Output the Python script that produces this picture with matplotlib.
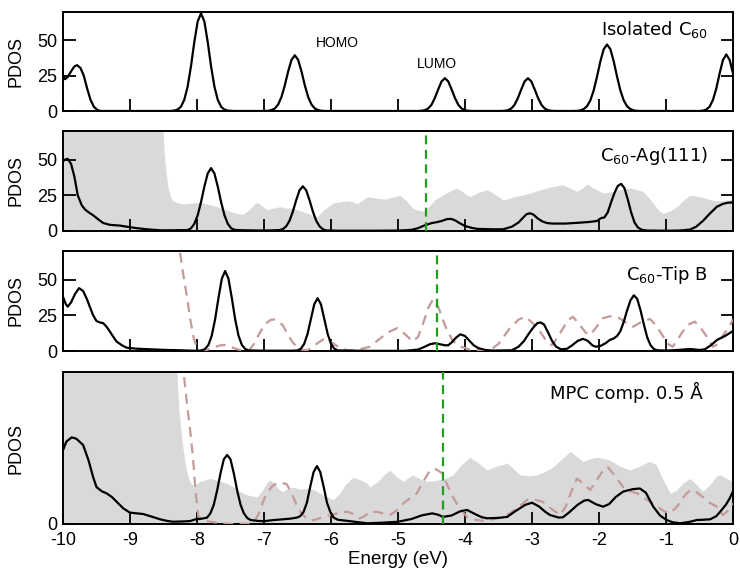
import numpy as np
import matplotlib
matplotlib.use("Agg")
import matplotlib.pyplot as plt

plt.rcParams['font.family'] = ['Liberation Sans', 'DejaVu Sans']
plt.rcParams['axes.unicode_minus'] = False

# ---- data (energy in eV, PDOS in arbitrary units) ----
# Isolated C60
iso_e = [-10, -9.97, -9.93, -9.88, -9.83, -9.79, -9.74, -9.69, -9.64, -9.59, -9.54, -9.49, -9.44,
         -8.4, -8.34, -8.29, -8.24, -8.19, -8.14, -8.09, -8.04, -7.99, -7.94, -7.89, -7.84, -7.79,
         -7.74, -7.69, -7.64, -7.59, -7.54, -7.45,
         -7.0, -6.94, -6.89, -6.84, -6.79, -6.74, -6.69, -6.64, -6.59, -6.54, -6.49, -6.44, -6.39,
         -6.34, -6.29, -6.24, -6.19, -6.14, -6.08,
         -4.72, -4.65, -4.60, -4.55, -4.50, -4.45, -4.40, -4.35, -4.30, -4.25, -4.20, -4.15, -4.10,
         -4.05, -4.00, -3.95, -3.88,
         -3.48, -3.41, -3.36, -3.31, -3.26, -3.21, -3.16, -3.11, -3.06, -3.01, -2.96, -2.91, -2.86,
         -2.81, -2.76, -2.71, -2.64,
         -2.4, -2.33, -2.28, -2.23, -2.18, -2.13, -2.08, -2.03, -1.98, -1.93, -1.88, -1.83, -1.78,
         -1.73, -1.68, -1.63, -1.58, -1.53, -1.48, -1.43, -1.36,
         -0.50, -0.45, -0.40, -0.35, -0.30, -0.25, -0.20, -0.15, -0.10, -0.05, 0.0]
iso_v = [25, 22.5, 24, 28, 31.5, 32.4, 30.5, 25, 16, 8, 3, 0.8, 0,
         0, 0.3, 1.0, 3.0, 7.9, 17.2, 31.6, 48.8, 63.3, 69, 63.3, 48.8, 31.6,
         17.2, 7.9, 3.0, 1.0, 0.3, 0,
         0, 0.15, 0.6, 1.7, 4.5, 9.8, 18.0, 27.9, 36.1, 39.4, 36.1, 27.9, 18.0,
         9.8, 4.5, 1.7, 0.6, 0.15, 0,
         0, 0.15, 0.56, 1.75, 4.4, 9.2, 15.3, 20.9, 23.2, 20.9, 15.3, 9.2, 4.4,
         1.75, 0.56, 0.15, 0,
         0, 0.15, 0.56, 1.75, 4.4, 9.2, 15.3, 20.9, 23.2, 20.9, 15.3, 9.2, 4.4,
         1.75, 0.56, 0.15, 0,
         0, 0.1, 0.4, 1.3, 3.3, 7.4, 14.4, 24.2, 35.0, 43.7, 47, 43.7, 35.0,
         24.2, 14.4, 7.4, 3.3, 1.3, 0.4, 0.1, 0,
         0, 0.25, 1.0, 3.0, 7.7, 15.8, 26.5, 36.1, 40, 36.1, 26.5]

# C60 on Ag(111): substrate (grey) and molecule (black)
ag_sub_e = [-10, -8.53, -8.51, -8.49, -8.46, -8.43, -8.39, -8.36, -8.28, -8.2, -8.08, -7.95, -7.82, -7.7,
            -7.58, -7.46, -7.38, -7.31, -7.22, -7.14, -7.1, -7.03, -6.96, -6.86, -6.76, -6.66, -6.56, -6.48,
            -6.39, -6.3, -6.21, -6.1, -5.97, -5.85, -5.76, -5.68, -5.61, -5.53, -5.46, -5.38, -5.27, -5.17,
            -5.06, -4.97, -4.88, -4.78, -4.7, -4.62, -4.53, -4.45, -4.3, -4.2, -4.12, -4.02, -3.93, -3.8,
            -3.67, -3.55, -3.43, -3.33, -3.28, -3.15, -3.03, -2.9, -2.75, -2.55, -2.43, -2.33, -2.25, -2.18,
            -2.08, -1.94, -1.8, -1.65, -1.54, -1.44, -1.34, -1.2, -1.1, -1.04, -0.94, -0.84, -0.74, -0.64,
            -0.55, -0.45, -0.35, -0.24, -0.12, 0]
ag_sub_v = [100, 100, 75, 55, 40, 30, 23.5, 21, 19.5, 19, 19.5, 20, 18.5, 17,
            15, 13, 12, 11.7, 15, 19, 20, 17.5, 15, 16, 17, 16, 16, 14.5,
            13, 11.5, 10, 15, 19.5, 20.5, 21, 20.5, 19, 21.5, 24, 23.5, 22.5, 22.5,
            24, 25, 21.5, 16, 14.5, 14, 17.5, 21.8, 26, 28.5, 30, 27, 24, 27,
            29, 25.5, 21.8, 23, 24, 25, 26.5, 28.5, 30.5, 32.4, 30, 27.7, 30, 33,
            30, 26.5, 27.5, 29.5, 30, 29, 27.7, 20, 14, 12.4, 14, 17, 21.5, 25,
            24.5, 23.5, 22, 21, 21.5, 22]
ag_mol_e = [-10, -9.97, -9.93, -9.88, -9.83, -9.78, -9.72, -9.67, -9.6, -9.55, -9.47, -9.4, -9.3, -9.15,
            -9.05, -8.9, -8.75, -8.55, -8.4, -8.19, -8.14, -8.09, -8.04, -7.99, -7.94, -7.89, -7.84, -7.79,
            -7.74, -7.69, -7.64, -7.59, -7.54, -7.49, -7.44, -7.3, -7.0, -6.85,
            -6.77, -6.72, -6.67, -6.62, -6.57, -6.52, -6.47, -6.42, -6.37, -6.32, -6.27, -6.22, -6.17,
            -6.12, -6.07, -5.9, -5.4, -5.0, -4.8, -4.7,
            -4.6, -4.5, -4.42, -4.35, -4.27, -4.21, -4.15, -4.08, -4.0, -3.9, -3.82, -3.6, -3.43, -3.3,
            -3.2, -3.13, -3.08, -3.03, -2.98, -2.92, -2.85, -2.78, -2.7, -2.5, -2.3, -2.15, -2.03, -1.97,
            -1.92, -1.87, -1.82, -1.77, -1.72, -1.67, -1.62, -1.57, -1.52, -1.47, -1.42, -1.37, -1.28, -1.0,
            -0.8, -0.64, -0.55, -0.45, -0.35, -0.24, -0.15, -0.08, 0]
ag_mol_v = [48.8, 50, 50.5, 47, 38, 25, 18, 15, 12.5, 11, 8, 5.6, 4.3, 3.8,
            3, 2, 1.2, 0.5, 0.5, 0.6, 0.6, 1.9, 5, 11, 20.2, 31.1, 40.3, 44,
            40.3, 31.1, 20.2, 11, 5, 1.9, 0.8, 0.5, 0.3, 0.5,
            0.6, 1.3, 3.2, 7.1, 13.5, 21.5, 28.5, 31.3, 28.5, 21.5, 13.5, 7.1, 3.2,
            1.2, 0.4, 0.2, 0.2, 0.3, 0.8, 2,
            4, 5.5, 6.2, 7, 8.3, 8.5, 7.5, 5.5, 3.5, 2.2, 1.5, 1.2, 1.2, 3,
            6, 9.5, 11.8, 12.4, 11.5, 9, 6.8, 5.6, 5.2, 5.2, 5.8, 6.3, 7, 9,
            9.5, 13, 20, 26.5, 31.5, 33, 30, 22, 13, 6, 2.5, 1, 0.3, 0.2,
            0.3, 1, 3, 7, 12, 17, 19, 19.8, 20]

# C60 on tip B: tip (pink dashed) and molecule (black)
tip_mol_e = [-10, -9.96, -9.93, -9.88, -9.82, -9.76, -9.7, -9.64, -9.6, -9.55, -9.5, -9.45, -9.4, -9.35,
             -9.3, -9.25, -9.2, -9.12, -9.05, -8.9, -8.7, -8.5, -8.25, -8.0, -7.93, -7.88, -7.83, -7.78,
             -7.73, -7.68, -7.63, -7.58, -7.53, -7.48, -7.43, -7.38, -7.33, -7.28, -7.23, -7.0, -6.6, -6.5,
             -6.45, -6.4, -6.35, -6.3, -6.25, -6.2, -6.15, -6.1, -6.05, -6.0, -5.95, -5.9, -5.5, -4.9,
             -4.7, -4.6, -4.52, -4.45, -4.38, -4.3, -4.25, -4.2, -4.13, -4.07, -4.0, -3.93, -3.87, -3.8,
             -3.7, -3.6, -3.3, -3.2, -3.12, -3.05, -2.98, -2.92, -2.87, -2.82, -2.76, -2.7, -2.64, -2.57,
             -2.48, -2.4, -2.32, -2.24, -2.17, -2.1, -2.05, -1.98, -1.9, -1.84, -1.78, -1.73, -1.68, -1.63,
             -1.58, -1.53, -1.48, -1.43, -1.38, -1.33, -1.28, -1.23, -1.18, -1.13, -1.0, -0.8, -0.64, -0.5,
             -0.42, -0.33, -0.24, -0.12, 0]
tip_mol_v = [38, 33, 31, 34, 40, 44, 42, 36, 31, 25, 21, 20, 19.5, 17,
             13.6, 10, 6.6, 4, 2.3, 1.6, 1.2, 0.8, 0.5, 0.1, 0.4, 1.4, 4.2, 10.7,
             22.1, 37, 50.5, 56, 50.5, 37, 22.1, 10.7, 4.2, 1.4, 0.4, 0.2, 0.2, 0.4,
             1.6, 5, 12, 22.4, 32.7, 37, 32.7, 22.4, 12, 5, 1.6, 0.4, 0.1, 0.1,
             1, 3, 4.8, 5.4, 4.8, 4, 4, 6, 9.5, 11.7, 10.5, 7, 4, 2,
             0.8, 0.3, 0.5, 3, 7, 12, 16.5, 19.5, 20, 18.5, 13, 7, 3, 1.2,
             1.5, 4, 7, 8.5, 7.2, 4, 3, 3.5, 5.5, 7.7, 8.8, 10.5, 14, 20.5,
             28.5, 35.5, 39, 36.5, 28.5, 18.5, 9.5, 4, 1.3, 0.5, 0.3, 0.8, 1.4, 0.7,
             1.2, 4, 7.7, 10.5, 14]
tip_e = [-8.32, -8.25, -8.2, -8.15, -8.1, -8.05, -8.0, -7.95, -7.85, -7.75, -7.65, -7.58, -7.5, -7.4,
         -7.3, -7.22, -7.15, -7.06, -6.98, -6.9, -6.85, -6.78, -6.72, -6.65, -6.58, -6.51, -6.44, -6.36,
         -6.28, -6.2, -6.12, -6.06, -5.97, -5.88, -5.76, -5.6, -5.42, -5.3, -5.15, -5.01, -4.9, -4.78,
         -4.7, -4.62, -4.55, -4.48, -4.4, -4.3, -4.2, -4.12, -3.93, -3.63, -3.5, -3.4, -3.33, -3.2,
         -3.1, -3.0, -2.88, -2.8, -2.7, -2.6, -2.51, -2.45, -2.39, -2.3, -2.2, -2.13, -2.05, -1.94,
         -1.84, -1.73, -1.6, -1.49, -1.38, -1.24, -1.15, -1.04, -0.97, -0.9, -0.8, -0.69, -0.57, -0.48,
         -0.39, -0.3, -0.22, -0.15, -0.07, 0]
tip_v = [80, 68, 52, 38, 22, 9, 2.5, 0.5, 0.8, 2.5, 4, 4.2, 3, 1.2,
         0.2, 0.5, 5, 13, 19, 21.8, 22, 20.5, 18, 12, 6.5, 3, 1, 0.5,
         2.5, 5.5, 8, 8.5, 5.4, 2.5, 0.5, 0.8, 3, 7.5, 13, 16, 12, 6.6,
         10, 20, 30, 36, 31, 18, 8.5, 4, 1, 0.5, 5, 11.5, 16, 22,
         24, 20, 13.6, 8, 4, 11, 18, 22, 24, 19, 13, 11.3, 16, 23,
         24.3, 24, 20, 17, 20, 22.5, 18, 10, 5, 3, 10, 18, 20.6, 16,
         10, 3, 5, 11, 16, 22]

# MPC composite 0.5 A: substrate (grey), tip (pink dashed), molecule (black)
mpc_sub_e = [-10, -8.32, -8.29, -8.26, -8.22, -8.18, -8.15, -8.1, -8.06, -8.0, -7.95, -7.8, -7.68, -7.55,
             -7.45, -7.36, -7.25, -7.1, -7.02, -6.95, -6.91, -6.85, -6.78, -6.72, -6.65, -6.56, -6.45,
             -6.36, -6.25, -6.16, -6.05, -5.97, -5.88, -5.78, -5.67, -5.56, -5.46, -5.42, -5.3, -5.2,
             -5.12, -5.02, -4.92, -4.85, -4.78, -4.68, -4.57, -4.45, -4.3, -4.18, -4.07, -3.93, -3.8,
             -3.67, -3.52, -3.37, -3.28, -3.18, -3.05, -2.93, -2.8, -2.69, -2.55, -2.43, -2.33, -2.24,
             -2.13, -2.03, -1.92, -1.84, -1.7, -1.54, -1.38, -1.25, -1.15, -1.05, -0.94, -0.84, -0.74,
             -0.64, -0.55, -0.45, -0.34, -0.25, -0.19, -0.1, 0]
mpc_sub_v = [150, 150, 95, 75, 57, 44, 36, 29, 27.5, 28.5, 30, 32, 30.5, 28.6,
             26, 22.8, 20.5, 19, 24, 29.5, 31, 29, 24.5, 22.8, 25, 25.8, 24.5,
             25, 24, 21.6, 19, 17, 21, 28, 33, 31, 28.6, 26, 30, 35,
             38, 33, 30, 32.5, 34.5, 32, 30, 30.5, 32, 34.5, 41, 47, 43,
             38, 41, 42.7, 39, 34.5, 34, 34.5, 37, 40, 46, 51, 47.5, 44,
             46, 47, 46, 45, 41, 38, 41, 44, 42, 32, 21.6, 24, 29,
             32, 28, 22.8, 28, 33.5, 34.5, 32, 30]
mpc_tip_e = [-8.22, -8.15, -8.1, -8.06, -8.02, -7.98, -7.9, -7.8, -7.65, -7.46, -7.3, -7.16, -7.08, -7.02,
             -6.96, -6.88, -6.81, -6.74, -6.66, -6.58, -6.52, -6.46, -6.38, -6.31, -6.2, -6.1, -6.01,
             -5.88, -5.76, -5.66, -5.57, -5.5, -5.42, -5.3, -5.2, -5.12, -5.02, -4.92, -4.82, -4.72,
             -4.62, -4.52, -4.43, -4.34, -4.26, -4.18, -4.08, -3.97, -3.85, -3.73, -3.55, -3.43, -3.33,
             -3.2, -3.07, -2.95, -2.84, -2.72, -2.58, -2.5, -2.42, -2.33, -2.25, -2.13, -2.02, -1.92,
             -1.87, -1.78, -1.64, -1.53, -1.43, -1.28, -1.13, -1.03, -0.94, -0.84, -0.74, -0.64, -0.55,
             -0.45, -0.35, -0.24, -0.15, -0.08, 0]
mpc_tip_v = [115, 85, 65, 47, 22, 5, 2.5, 1.6, 0.5, 0, 0.2, 0.5, 7, 15,
             21.6, 26.5, 28.6, 29, 28, 21, 14, 8.7, 4.5, 2.3, 3.5, 5.3, 6.3,
             7.8, 8.7, 7, 4, 5.5, 8.7, 8.5, 7, 6.3, 9.5, 14.6, 18, 21.6,
             30, 38, 38.5, 35.7, 27, 19, 11, 5, 3, 2.3, 3.5, 5.5, 7.5,
             12, 17, 17, 15.7, 11, 6.3, 12, 22, 32, 29, 24, 32, 39,
             40, 35, 26, 23, 21.6, 17, 12.2, 9, 7.5, 12, 19, 24, 22.5,
             19, 15, 12.2, 6.3, 9, 14.6]
mpc_mol_e = [-10, -9.95, -9.87, -9.8, -9.7, -9.62, -9.55, -9.5, -9.42, -9.35, -9.27, -9.2, -9.1, -9.0,
             -8.9, -8.8, -8.65, -8.55, -8.45, -8.36, -8.2, -8.1, -8.03, -7.95, -7.9, -7.85, -7.8, -7.75,
             -7.7, -7.65, -7.6, -7.55, -7.5, -7.45, -7.4, -7.35, -7.3, -7.25, -7.2, -7.1, -7.0, -6.85,
             -6.72, -6.6, -6.51, -6.46, -6.41, -6.36, -6.31, -6.26, -6.21, -6.16, -6.11, -6.06, -6.01,
             -5.96, -5.9, -5.72, -5.46, -5.2, -5.0, -4.8, -4.65, -4.49, -4.4, -4.33, -4.2, -4.07, -3.97,
             -3.85, -3.75, -3.67, -3.5, -3.37, -3.25, -3.1, -3.0, -2.9, -2.8, -2.73, -2.6, -2.54, -2.45,
             -2.32, -2.22, -2.16, -2.05, -1.94, -1.85, -1.75, -1.64, -1.5, -1.39, -1.3, -1.19, -1.09,
             -0.99, -0.9, -0.79, -0.65, -0.54, -0.44, -0.34, -0.25, -0.19, -0.1, -0.05, 0]
mpc_mol_v = [52, 58, 61, 60, 55.6, 45, 33, 26, 23, 21.6, 19, 15.7, 11, 8,
             7.5, 7, 4.8, 3.3, 2.2, 1.6, 1.8, 2.1, 3.2, 3.6, 4, 4.5, 7.5, 13.5,
             23.5, 35.5, 45.5, 48.6, 45.5, 35.5, 23.5, 13.5, 7.5, 4.2, 2.8, 2.2, 2, 2.8,
             3.3, 3.8, 4.5, 5.5, 8.5, 15, 26.3, 36.5, 40.8, 36.5, 26.3, 15, 8.5,
             4.5, 3, 2, 0.5, 1, 1.6, 3.5, 6, 7.5, 6.5, 5, 6, 9, 9.9,
             7, 4.8, 4, 4.3, 5, 9, 13.5, 15, 12.5, 8.5, 6.3, 4.5, 4.7, 8,
             13.5, 16.5, 16.9, 14, 12.2, 14, 19, 22.8, 24.5, 25, 22, 12.2, 6,
             2.8, 1.2, 0.5, 1.5, 2.8, 3, 3.3, 5.5, 8.7, 14, 18, 23]

# Fermi level positions (green dashed)
ef_ag = -4.58
ef_tip = -4.42
ef_mpc = -4.33

xticks = [-10, -9, -8, -7, -6, -5, -4, -3, -2, -1, 0]

# ---- figure ----
fig = plt.figure(figsize=(7.4, 5.73), dpi=100)
left, width = 63 / 740, 670 / 740
ax1 = fig.add_axes([left, 1 - 111 / 573, width, 99 / 573])
ax2 = fig.add_axes([left, 1 - 231 / 573, width, 100 / 573])
ax3 = fig.add_axes([left, 1 - 351 / 573, width, 100 / 573])
ax4 = fig.add_axes([left, 1 - 524 / 573, width, 152 / 573])

grey = '#d9d9d9'
pink = '#c49a9a'
green = '#1f9e1f'
black_kw = dict(color='black', lw=1.6, zorder=4)
pink_kw = dict(color=pink, lw=1.6, dashes=(4.5, 3), zorder=3)

ax1.plot(iso_e, iso_v, **black_kw)
ax1.text(-5.91, 48, 'HOMO', ha='center', va='center', fontsize=10)
ax1.text(-4.42, 33, 'LUMO', ha='center', va='center', fontsize=10)

ax2.fill_between(ag_sub_e, ag_sub_v, color=grey, lw=0, zorder=1)
ax2.plot(ag_mol_e, ag_mol_v, **black_kw)
ax2.axvline(ef_ag, color=green, lw=1.6, dashes=(4, 2.5), zorder=5)

ax3.plot(tip_e, tip_v, **pink_kw)
ax3.plot(tip_mol_e, tip_mol_v, **black_kw)
ax3.axvline(ef_tip, color=green, lw=1.6, dashes=(4, 2.5), zorder=5)

ax4.fill_between(mpc_sub_e, mpc_sub_v, color=grey, lw=0, zorder=1)
ax4.plot(mpc_tip_e, mpc_tip_v, **pink_kw)
ax4.plot(mpc_mol_e, mpc_mol_v, **black_kw)
ax4.axvline(ef_mpc, color=green, lw=1.6, dashes=(4, 2.5), zorder=5)

labels = [(ax1, 'Isolated C$_{60}$', 0.963, 0.768), (ax2, 'C$_{60}$-Ag(111)', 0.963, 0.70),
          (ax3, 'C$_{60}$-Tip B', 0.963, 0.71), (ax4, 'MPC comp. 0.5 Å', 0.954, 0.82)]
for ax, txt, x, y in labels:
    ax.text(x, y, txt, transform=ax.transAxes, ha='right', va='baseline',
            fontsize=13, family='DejaVu Sans')

for ax in (ax1, ax2, ax3, ax4):
    ax.set_xlim(-10, 0)
    ax.set_xticks(xticks)
    ax.tick_params(direction='in', length=9, width=1.3, right=True, top=False,
                   labelsize=13, pad=6)
    ax.tick_params(axis='y', pad=4)
    for s in ax.spines.values():
        s.set_linewidth(1.4)
    ax.set_ylabel('PDOS', fontsize=13)
    ax.yaxis.set_label_coords(-0.057, 0.5)
    if ax is not ax4:
        ax.set_ylim(0, 70)
        ax.set_yticks([0, 25, 50])
        ax.tick_params(labelbottom=False)

ax4.set_ylim(0, 107)
ax4.set_yticks([0])
ax4.set_xlabel('Energy (eV)', fontsize=13.5, labelpad=1)

fig.savefig('out.png', dpi=100)
